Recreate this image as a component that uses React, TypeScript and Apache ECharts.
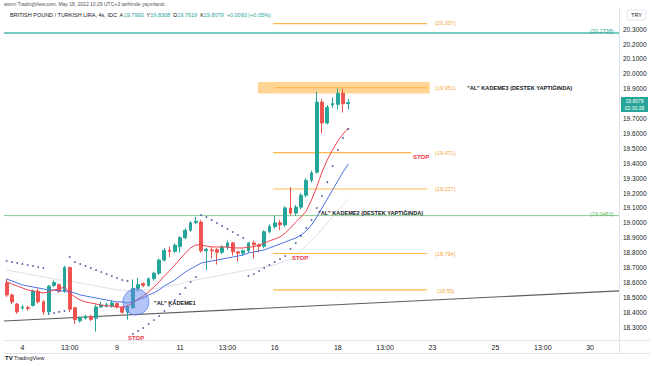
import React, { useEffect, useRef } from "react";
import * as echarts from "echarts";

const dayList = ["3", "4", "5", "6", "9", "10", "11", "12", "13", "16", "17", "18", "19", "20", "23", "24", "25", "26", "27", "30"];
const hourList = ["01:00", "05:00", "09:00", "13:00", "17:00", "21:00"];
const tickKeys = ["4 01:00", "5 13:00", "9 01:00", "11 01:00", "12 13:00", "16 01:00", "18 01:00", "19 13:00", "23 01:00", "25 01:00", "26 13:00", "30 01:00"];
const yTicks = { min: 18.2, max: 20.4, step: 0.1 };
const coveredTicks = ["20.4000", "19.8000"];

const opens = [18.596, 18.516, 18.455, 18.428, 18.432, 18.445, 18.54, 18.47, 18.402, 18.58, 18.585, 18.54, 18.7, 18.43, 18.342, 18.36, 18.372, 18.36, 18.435, 18.44, 18.44, 18.458, 18.432, 18.4, 18.43, 18.56, 18.592, 18.58, 18.625, 18.662, 18.75, 18.815, 18.808, 18.84, 18.9, 18.95, 19.0, 19.005, 18.812, 18.818, 18.82, 18.802, 18.836, 18.865, 18.805, 18.796, 18.812, 18.865, 18.852, 18.842, 18.94, 18.975, 19.0, 18.986, 19.1, 19.065, 19.105, 19.185, 19.285, 19.34, 19.81, 19.67, 19.79, 19.795, 19.87, 19.7993];
const closes = [18.516, 18.469, 18.402, 18.435, 18.425, 18.54, 18.47, 18.402, 18.575, 18.6, 18.54, 18.7, 18.42, 18.35, 18.362, 18.372, 18.352, 18.435, 18.448, 18.45, 18.462, 18.436, 18.4, 18.44, 18.56, 18.585, 18.58, 18.625, 18.662, 18.75, 18.815, 18.808, 18.85, 18.9, 18.95, 19.0, 19.01, 18.812, 18.822, 18.812, 18.802, 18.836, 18.865, 18.805, 18.796, 18.812, 18.865, 18.852, 18.842, 18.94, 18.975, 19.0, 18.986, 19.1, 19.065, 19.105, 19.185, 19.285, 19.335, 19.81, 19.67, 19.775, 19.8, 19.87, 19.799, 19.8079];
const lows = [18.502, 18.455, 18.39, 18.415, 18.41, 18.438, 18.458, 18.382, 18.392, 18.57, 18.53, 18.53, 18.4, 18.32, 18.33, 18.35, 18.34, 18.27, 18.428, 18.432, 18.43, 18.425, 18.39, 18.35, 18.425, 18.54, 18.568, 18.57, 18.612, 18.65, 18.74, 18.77, 18.8, 18.8, 18.89, 18.94, 18.99, 18.8, 18.683, 18.76, 18.72, 18.79, 18.82, 18.78, 18.74, 18.78, 18.8, 18.76, 18.8, 18.83, 18.93, 18.96, 18.95, 18.97, 19.05, 19.05, 19.09, 19.17, 19.27, 19.33, 19.6, 19.66, 19.77, 19.76, 19.74, 19.7619];
const highs = [18.623, 18.525, 18.462, 18.45, 18.442, 18.552, 18.56, 18.48, 18.583, 18.612, 18.592, 18.712, 18.705, 18.436, 18.372, 18.382, 18.382, 18.45, 18.47, 18.465, 18.48, 18.465, 18.44, 18.45, 18.62, 18.63, 18.6, 18.632, 18.672, 18.76, 18.83, 18.84, 18.862, 18.91, 18.962, 19.01, 19.04, 19.02, 18.832, 18.84, 18.83, 18.85, 18.88, 18.872, 18.812, 18.822, 18.872, 18.88, 18.86, 18.95, 18.99, 19.05, 19.02, 19.11, 19.24, 19.12, 19.2, 19.3, 19.35, 19.88, 19.83, 19.79, 19.84, 19.9, 19.9, 19.8308];

const redMA = [18.603, 18.589, 18.576, 18.563, 18.549, 18.543, 18.536, 18.529, 18.536, 18.549, 18.556, 18.569, 18.529, 18.502, 18.482, 18.469, 18.462, 18.455, 18.448, 18.442, 18.442, 18.435, 18.435, 18.442, 18.462, 18.489, 18.509, 18.536, 18.569, 18.603, 18.643, 18.677, 18.717, 18.757, 18.797, 18.831, 18.851, 18.851, 18.844, 18.838, 18.838, 18.838, 18.838, 18.831, 18.831, 18.831, 18.838, 18.838, 18.851, 18.864, 18.878, 18.891, 18.905, 18.932, 18.965, 19.005, 19.039, 19.079, 19.153, 19.24, 19.341, 19.422, 19.489, 19.549, 19.596, 19.636];
const blueMA = [18.623, 18.61, 18.596, 18.583, 18.576, 18.569, 18.563, 18.556, 18.549, 18.549, 18.543, 18.543, 18.536, 18.529, 18.516, 18.509, 18.502, 18.495, 18.489, 18.482, 18.475, 18.469, 18.469, 18.462, 18.469, 18.482, 18.495, 18.516, 18.529, 18.549, 18.576, 18.596, 18.616, 18.643, 18.67, 18.69, 18.71, 18.73, 18.737, 18.744, 18.75, 18.757, 18.764, 18.77, 18.777, 18.784, 18.797, 18.804, 18.811, 18.818, 18.831, 18.844, 18.858, 18.871, 18.885, 18.898, 18.918, 18.945, 18.985, 19.039, 19.099, 19.16, 19.22, 19.281, 19.341, 19.395];
const slowMA = [18.683, 18.677, 18.67, 18.663, 18.656, 18.65, 18.643, 18.636, 18.63, 18.623, 18.616, 18.616, 18.61, 18.603, 18.596, 18.589, 18.583, 18.576, 18.569, 18.563, 18.556, 18.549, 18.549, 18.543, 18.543, 18.543, 18.549, 18.549, 18.556, 18.563, 18.569, 18.576, 18.583, 18.589, 18.603, 18.61, 18.616, 18.623, 18.63, 18.636, 18.643, 18.65, 18.656, 18.663, 18.67, 18.677, 18.683, 18.69, 18.697, 18.703, 18.71, 18.717, 18.73, 18.744, 18.757, 18.784, 18.811, 18.851, 18.885, 18.918, 18.958, 18.999, 19.039, 19.079, 19.12, 19.16];
const sar = [18.744, 18.737, 18.73, 18.724, 18.717, 18.71, 18.703, 18.697, 18.388, 18.395, 18.402, 18.408, 18.77, 18.737, 18.724, 18.71, 18.697, 18.683, 18.67, 18.656, 18.643, 18.63, 18.616, 18.61, 18.254, 18.274, 18.294, 18.321, 18.348, 18.375, 18.408, 18.442, 18.482, 18.522, 18.563, 18.603, 18.636, 19.052, 19.039, 19.019, 18.999, 18.979, 18.958, 18.938, 18.918, 18.898, 18.643, 18.656, 18.677, 18.697, 18.717, 18.737, 18.757, 18.777, 18.824, 18.864, 18.911, 18.965, 19.019, 19.099, 19.18, 19.273, 19.381, 19.489, 19.569, 19.63];

const levelTeal = 20.2738;
const levelGreen = 19.0483;
const orangeLevels = [
  { price: 20.337, from: 50.7, to: 80 },
  { price: 19.907, from: 51, to: 80 },
  { price: 19.471, from: 50.7, to: 77 },
  { price: 19.227, from: 50.7, to: 80 },
  { price: 18.794, from: 50.7, to: 80 },
  { price: 18.55, from: 50.7, to: 80 },
];
const zoneBox = { from: 47.8, to: 80.5, top: 19.945, bottom: 19.868 };
const trendLine = [[-0.5, 18.341], [116.5, 18.543]];
const circleMark = [24.6, 18.469];

const FONT = "'Liberation Sans', Arial, sans-serif";

export default function App() {
  const ref = useRef<HTMLDivElement>(null);
  useEffect(() => {
    if (!ref.current) return;
    const chart = echarts.init(ref.current, null, { renderer: "svg" });
    const categories: string[] = [];
    dayList.forEach((d, di) =>
      hourList.forEach((h, hi) => {
        if (di === 0 && hi < 3) return;
        categories.push(`${d} ${h}`);
      })
    );
    const candles = opens.map((o, i) => [o, closes[i], lows[i], highs[i]]);
    const N = categories.length;

    const orange = "#ffb74d";
    const overlay = (data: number[][], color: string, width = 1) => ({
      type: "line",
      xAxisIndex: 1,
      yAxisIndex: 0,
      data,
      showSymbol: false,
      silent: true,
      lineStyle: { color, width },
      z: 3,
    });

    const txt = (x: number, y: number, text: string, fill: string, size = 5.5, weight: any = "normal", align = "left") => ({
      type: "text",
      x,
      y,
      silent: true,
      style: { text, fill, font: `${weight} ${size}px ${FONT}`, textAlign: align, textVerticalAlign: "middle" },
      z: 50,
    });

    const option: any = {
      animation: false,
      backgroundColor: "#ffffff",
      grid: { left: 4, right: 35, top: 14.2, bottom: 24, containLabel: false },
      xAxis: [
        {
          type: "category",
          data: categories,
          boundaryGap: true,
          axisLine: { show: false },
          axisTick: { show: false },
          splitLine: { show: false },
          axisLabel: {
            interval: (_i: number, v: string) => tickKeys.includes(v),
            formatter: (v: string) => {
              const [d, h] = v.split(" ");
              return h === "01:00" ? d : h;
            },
            fontSize: 7,
            color: "#131722",
            fontFamily: FONT,
            margin: 1.5,
          },
        },
        { type: "value", min: -0.5, max: N - 0.5, show: false },
      ],
      yAxis: {
        type: "value",
        position: "right",
        min: yTicks.min,
        max: yTicks.max,
        interval: yTicks.step,
        axisLine: { show: false },
        axisTick: { show: false },
        splitLine: { show: false },
        axisLabel: {
          formatter: (v: number) => {
            const s = v.toFixed(4);
            return coveredTicks.includes(s) ? "" : s;
          },
          fontSize: 6.5,
          color: "#131722",
          fontFamily: FONT,
          margin: 4,
          showMinLabel: false,
        },
      },
      series: [
        overlay(trendLine, "#5d5d5d", 1.2),
        overlay([[-0.5, levelTeal], [N - 0.5, levelTeal]], "#4db6ac", 1.3),
        overlay([[-0.5, levelGreen], [N - 0.5, levelGreen]], "#8bc98e", 1),
        ...orangeLevels.map((l) => overlay([[l.from, l.price], [l.to, l.price]], orange, 1.2)),
        {
          type: "line",
          xAxisIndex: 1,
          data: [],
          silent: true,
          markArea: {
            silent: true,
            itemStyle: { color: "rgba(255,183,77,0.6)" },
            data: [[{ coord: [zoneBox.from, zoneBox.top] }, { coord: [zoneBox.to, zoneBox.bottom] }]],
          },
        },
        {
          type: "line",
          data: slowMA,
          showSymbol: false,
          silent: true,
          lineStyle: { color: "#dcdfe8", width: 1 },
          z: 2,
        },
        {
          type: "candlestick",
          data: candles,
          barWidth: "62%",
          itemStyle: {
            color: "#26a69a",
            color0: "#ef5350",
            borderColor: "#26a69a",
            borderColor0: "#ef5350",
            borderWidth: 1,
          },
          z: 5,
        },
        {
          type: "line",
          data: blueMA,
          showSymbol: false,
          silent: true,
          lineStyle: { color: "#4a72e3", width: 1 },
          z: 6,
        },
        {
          type: "line",
          data: redMA,
          showSymbol: false,
          silent: true,
          lineStyle: { color: "#f0424f", width: 1 },
          z: 6,
        },
        {
          type: "scatter",
          data: sar,
          symbolSize: 1.8,
          silent: true,
          itemStyle: { color: "#2b3a8f" },
          z: 6,
        },
        {
          type: "scatter",
          xAxisIndex: 1,
          data: [circleMark],
          symbolSize: 26,
          silent: true,
          itemStyle: { color: "rgba(98,134,238,0.6)", borderColor: "#5b7be6", borderWidth: 1 },
          z: 7,
        },
      ],
      graphic: [
        txt(4, 4, "asmn TradingView.com, May 18, 2022 10:29 UTC+3 tarihinde yayınlandı", "#50535e", 5),
        {
          type: "text",
          x: 10,
          y: 15,
          silent: true,
          z: 50,
          style: {
            text: "{d|BRITISH POUND / TURKISH LIRA, 4s, IDC  A}{g|19.7993}{d|  Y}{g|19.8308}{d|  D}{g|19.7619}{d|  K}{g|19.8079}{g|  +0.0093 (+0.05%)}",
            textVerticalAlign: "middle",
            rich: {
              d: { fill: "#131722", font: `normal 5.5px ${FONT}` },
              g: { fill: "#26a69a", font: `normal 5.5px ${FONT}` },
            },
          },
        },
        { type: "rect", shape: { x: 627, y: 10, width: 19, height: 10, r: 2 }, style: { fill: "#ffffff", stroke: "#d1d4dc", lineWidth: 0.6 }, z: 49 },
        txt(636.5, 15.2, "TRY", "#131722", 5.5, "normal", "center"),
        txt(435, 23, "(20.337)", "#f6a33a"),
        txt(590, 31, "(20.2738)", "#26a69a"),
        txt(435, 88, "(19.951)", "#f6a33a"),
        txt(467, 88, '"AL" KADEME3 (DESTEK YAPTIĞINDA)', "#131722", 5.6, "bold"),
        txt(413, 156.5, "STOP", "#f23645", 6, "bold"),
        txt(435, 153, "(19.471)", "#f6a33a"),
        txt(435, 189, "(19.227)", "#f6a33a"),
        txt(318, 213, '"AL" KADEME2 (DESTEK YAPTIĞINDA)', "#131722", 5.6, "bold"),
        txt(590, 213.5, "(19.0483)", "#66bb6a"),
        txt(435, 253.5, "(18.794)", "#f6a33a"),
        txt(292, 258, "STOP", "#f23645", 6, "bold"),
        txt(437, 291, "(18.55)", "#f6a33a"),
        txt(154, 303, '"AL" KADEME1', "#131722", 5.6, "bold"),
        txt(128, 337.5, "STOP", "#f23645", 6, "bold"),
        { type: "rect", shape: { x: 621, y: 97, width: 27, height: 15 }, style: { fill: "#26a69a" }, z: 49 },
        {
          type: "text",
          x: 634.5,
          y: 104.5,
          silent: true,
          z: 50,
          style: {
            text: "19.8079\n02:30:28",
            fill: "#ffffff",
            font: `normal 5px ${FONT}`,
            lineHeight: 6.5,
            textAlign: "center",
            textVerticalAlign: "middle",
          },
        },
        { type: "line", shape: { x1: 619.5, y1: 8, x2: 619.5, y2: 353 }, style: { stroke: "#e0e3eb", lineWidth: 1 }, z: 1 },
        { type: "line", shape: { x1: 4, y1: 340.5, x2: 650, y2: 340.5 }, style: { stroke: "#e0e3eb", lineWidth: 1 }, z: 1 },
        { type: "line", shape: { x1: 4, y1: 353.5, x2: 650, y2: 353.5 }, style: { stroke: "#e0e3eb", lineWidth: 1 }, z: 1 },
        txt(5, 358, "TV", "#131722", 6, "bold"),
        txt(14, 358, "TradingView", "#131722", 5.5),
      ],
    };
    chart.setOption(option);
    return () => chart.dispose();
  }, []);
  return <div ref={ref} style={{ position: "fixed", left: 0, top: 0, width: 654, height: 366, background: "#fff" }} />;
}
